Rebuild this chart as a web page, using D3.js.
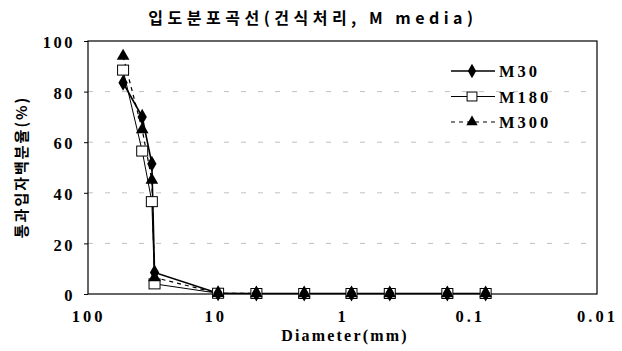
<!DOCTYPE html>
<html>
<head>
<meta charset="utf-8">
<script src="https://cdn.jsdelivr.net/npm/d3@7"></script>
<style>
  html, body { margin: 0; padding: 0; background: #fff; }
  svg { display: block; }
  .num { font-family: "Liberation Serif", "DejaVu Serif", serif; font-weight: bold; }
  .kr { font-family: "Noto Sans CJK KR", "Noto Sans", sans-serif; font-weight: bold; }
</style>
</head>
<body>
<svg id="chart" width="622" height="351"></svg>
<script>
// Sieve sizes (mm) and percent passing for each media
const diameters = [53, 37.5, 31.5, 30, 9.5, 4.75, 2.0, 0.85, 0.425, 0.15, 0.075];
const m30  = [83.5, 70, 51.5, 8.5, 0.3, 0.2, 0.2, 0.2, 0.2, 0.2, 0.2];
const m180 = [88.5, 56.5, 36.5, 4, 0.3, 0.2, 0.2, 0.2, 0.2, 0.2, 0.2];
const m300 = [94, 65, 45, 6.5, 0.3, 0.2, 0.2, 0.2, 0.2, 0.2, 0.2];
const seriesNames = ["M30", "M180", "M300"];
const xTicks = [100, 10, 1, 0.1, 0.01];
const xTickLabels = ["100", "10", "1", "0.1", "0.01"];
const yTicks = [0, 20, 40, 60, 80, 100];
const titleText = "입도분포곡선(건식처리, M media)";
const xTitle = "Diameter(mm)";
const yTitle = "통과입자백분율(%)";

const svg = d3.select("#chart");
const plotLeft = 88, plotRight = 597, plotTop = 41, plotBottom = 294;

const x = d3.scaleLog().domain([100, 0.01]).range([plotLeft, plotRight]);
const y = d3.scaleLinear().domain([0, 100]).range([plotBottom, plotTop]);

// gridlines
svg.append("g").selectAll("line").data(yTicks.filter(d => d > 0 && d < 100)).join("line")
  .attr("x1", plotLeft).attr("x2", plotRight)
  .attr("y1", d => y(d)).attr("y2", d => y(d))
  .attr("stroke", "#b0b0b0").attr("stroke-width", 0.8)
  .attr("stroke-dasharray", "5,12");

// plot frame
svg.append("rect")
  .attr("x", plotLeft).attr("y", plotTop)
  .attr("width", plotRight - plotLeft).attr("height", plotBottom - plotTop)
  .attr("fill", "none").attr("stroke", "#000").attr("stroke-width", 1.2);

// y axis
const yAxis = d3.axisLeft(y).tickValues(yTicks).tickSize(4).tickPadding(9).tickFormat(d3.format("d"));
const gy = svg.append("g").attr("transform", `translate(${plotLeft},0)`).call(yAxis);
gy.select(".domain").remove();
gy.selectAll("text").attr("class", "num").style("font-size", "16.5px")
  .style("letter-spacing", "2.5px").attr("dy", "0.4em").attr("fill", "#000");

// x axis
const xAxis = d3.axisBottom(x).tickValues(xTicks).tickSize(0).tickPadding(16)
  .tickFormat((d, i) => xTickLabels[i]);
const gx = svg.append("g").attr("transform", `translate(0,${plotBottom})`).call(xAxis);
gx.select(".domain").remove();
gx.selectAll("text").attr("class", "num").style("font-size", "16.5px")
  .style("letter-spacing", "3px").attr("fill", "#000");

// series
const series = [
  { name: seriesNames[0], values: m30, marker: "diamond", dash: null, width: 1.6 },
  { name: seriesNames[1], values: m180, marker: "square", dash: null, width: 1 },
  { name: seriesNames[2], values: m300, marker: "triangle", dash: "4,4", width: 1.2 }
];

const line = d3.line().x(d => x(d[0])).y(d => y(d[1]));

function drawMarker(g, type, cx, cy, scale = 1) {
  if (type === "diamond") {
    g.append("path").attr("d", d3.symbol(d3.symbolDiamond, 75 * scale)())
      .attr("transform", `translate(${cx},${cy})`).attr("fill", "#000");
  } else if (type === "square") {
    const w = 11 * Math.sqrt(scale), h = 10 * Math.sqrt(scale);
    g.append("rect").attr("x", cx - w / 2).attr("y", cy - h / 2).attr("width", w).attr("height", h)
      .attr("fill", "#fff").attr("stroke", "#000").attr("stroke-width", 1);
  } else {
    g.append("path").attr("d", d3.symbol(d3.symbolTriangle, 70 * scale)())
      .attr("transform", `translate(${cx},${cy})`).attr("fill", "#000");
  }
}

series.forEach(s => {
  const pts = diameters.map((d, i) => [d, s.values[i]]);
  svg.append("path").datum(pts).attr("d", line)
    .attr("fill", "none").attr("stroke", "#000").attr("stroke-width", s.width)
    .attr("stroke-dasharray", s.dash);
});
// markers on top, M180 squares under the filled ones near zero
[series[1], series[2], series[0]].forEach(s => {
  const g = svg.append("g");
  diameters.forEach((d, i) => drawMarker(g, s.marker, x(d), y(s.values[i])));
});

// legend
const legend = svg.append("g");
series.forEach((s, i) => {
  const ly = 71 + i * 25.5;
  legend.append("line").attr("x1", 451).attr("x2", 495).attr("y1", ly).attr("y2", ly)
    .attr("stroke", "#000").attr("stroke-width", s.width).attr("stroke-dasharray", s.dash);
  drawMarker(legend, s.marker, 472, ly, 0.8);
  legend.append("text").attr("class", "num").attr("x", 499).attr("y", ly + 6)
    .style("font-size", "16.5px").style("letter-spacing", "3px").text(s.name);
});

// titles
svg.append("text").attr("x", 313).attr("y", 24).attr("text-anchor", "middle")
  .style("font-size", "16px").style("letter-spacing", "4.5px")
  .style("font-family", "'Noto Sans CJK KR', sans-serif").style("font-weight", "bold")
  .text(titleText);

svg.append("text").attr("class", "num").attr("x", 345).attr("y", 341).attr("text-anchor", "middle")
  .style("font-size", "16px").style("letter-spacing", "2.2px").text(xTitle);

svg.append("text").attr("class", "kr").attr("transform", "translate(27,167) rotate(-90)")
  .attr("text-anchor", "middle").style("font-size", "15px").style("letter-spacing", "2px")
  .text(yTitle);
</script>
</body>
</html>
